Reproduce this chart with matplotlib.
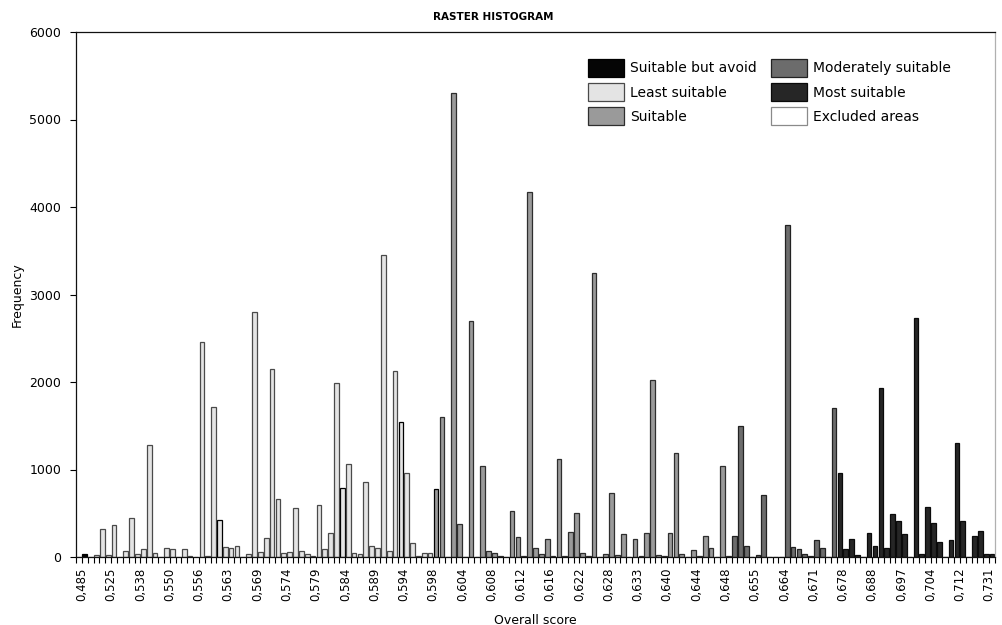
import matplotlib
matplotlib.use("Agg")
import matplotlib.pyplot as plt
from matplotlib.patches import Patch

# ============== Données lues sur l'histogramme ===================
# libellés de l'axe x (un tous les 5 bins)
score_labels = [
    "0,485", "0,525", "0,538", "0,550", "0,556", "0,563", "0,569", "0,574",
    "0,579", "0,584", "0,589", "0,594", "0,598", "0,604", "0,608", "0,612",
    "0,616", "0,622", "0,628", "0,633", "0,640", "0,644", "0,648", "0,655",
    "0,664", "0,671", "0,678", "0,688", "0,697", "0,704", "0,712", "0,731",
]

# fréquence de chaque bin (157 bins)
freq = [
    0, 34, 5, 23, 324, 23, 362, 5, 69, 442,
    40, 95, 1280, 50, 5, 107, 95, 5, 95, 15,
    0, 2457, 10, 1718, 423, 118, 106, 130, 0, 40,
    2800, 60, 221, 2150, 663, 50, 60, 556, 70, 40,
    15, 594, 90, 270, 1985, 792, 1059, 50, 30, 853,
    130, 105, 3452, 70, 2126, 1540, 957, 155, 15, 50,
    50, 777, 1604, 0, 5300, 377, 0, 2700, 0, 1044,
    70, 50, 15, 0, 529, 232, 10, 4175, 100, 40,
    206, 10, 1120, 10, 282, 499, 45, 15, 3246, 0,
    35, 735, 20, 263, 0, 206, 10, 270, 2023, 25,
    10, 270, 1192, 35, 0, 80, 10, 244, 100, 0,
    1040, 10, 244, 1500, 130, 0, 25, 712, 5, 5,
    5, 3800, 118, 90, 30, 10, 194, 106, 0, 1703,
    957, 88, 206, 22, 0, 270, 130, 1928, 100, 491,
    411, 259, 0, 2732, 30, 568, 385, 168, 0, 194,
    1307, 411, 0, 244, 297, 35, 30,
]

# classe de chaque bin
bin_class = ["least"] * 61 + ["suitable"] * 51 + ["moderate"] * 18 + ["most"] * 27
bin_class[1] = "avoid"

# bins dont le contour est plus foncé sur l'original
dark_edge_bins = [24, 45, 55, 61]

# ============== Style ===================
class_order = ["avoid", "least", "suitable", "moderate", "most", "excluded"]
class_names = {
    "avoid": "Suitable but avoid",
    "least": "Least suitable",
    "suitable": "Suitable",
    "moderate": "Moderately suitable",
    "most": "Most suitable",
    "excluded": "Excluded areas",
}
class_colors = {
    "avoid": "#050505",
    "least": "#e4e4e4",
    "suitable": "#9a9a9a",
    "moderate": "#6c6c6c",
    "most": "#262626",
    "excluded": "#ffffff",
}
edge_colors = {
    "avoid": "#000000",
    "least": "#4a4a4a",
    "suitable": "#2e2e2e",
    "moderate": "#222222",
    "most": "#0a0a0a",
    "excluded": "#8a8a8a",
}

plt.rcParams["font.family"] = ["DejaVu Sans"]

fig = plt.figure(figsize=(10.03, 6.25), dpi=100)
ax = fig.add_axes([76 / 1003, 1 - 557 / 625, 919 / 1003, 525 / 625])

# ============== Barres ===================
n_bins = len(freq)
x = [i + 0.5 for i in range(n_bins)]
fills = [class_colors[c] for c in bin_class]
edges = [edge_colors[c] for c in bin_class]
for i in dark_edge_bins:
    edges[i] = "#000000"
ax.bar(x, freq, width=0.8, color=fills, edgecolor=edges, linewidth=0.9, zorder=2)

# ============== Axes ===================
ax.set_xlim(0, n_bins)
ax.set_ylim(0, 6000)
ax.set_yticks(range(0, 6001, 1000))
ax.tick_params(axis="y", labelsize=9, length=4, width=0.8, pad=6.5)

label_pos = [1 + 5 * k for k in range(len(score_labels))]
ax.set_xticks(label_pos)
ax.set_xticklabels(score_labels, rotation=90, fontsize=8.5)
ax.set_xticks(range(0, n_bins + 1), minor=True)
ax.tick_params(axis="x", which="both", length=4, width=0.8, pad=3.5)

for side in ["left", "bottom", "top"]:
    ax.spines[side].set_color("#111111")
    ax.spines[side].set_linewidth(0.9)
ax.spines["right"].set_color("#b0b0b0")
ax.spines["right"].set_linewidth(0.9)

ax.set_xlabel("Overall score", fontsize=9, labelpad=9)
ax.set_ylabel("Frequency", fontsize=9, labelpad=4)
fig.text(493 / 1003, 1 - 17 / 625, "RASTER HISTOGRAM", fontsize=7.5,
         fontweight="bold", ha="center", va="center")

# ============== Légende ===================
handles = [
    Patch(facecolor=class_colors[c], edgecolor=edge_colors[c], linewidth=0.9,
          label=class_names[c])
    for c in class_order
]
ax.legend(handles=handles, ncol=2, frameon=False, fontsize=10,
          loc="upper left", bbox_to_anchor=(588 / 1003, 1 - 59 / 625),
          bbox_transform=fig.transFigure, borderpad=0, borderaxespad=0,
          handlelength=2.6, handleheight=1.6, handletextpad=0.45,
          labelspacing=0.45, columnspacing=1.0)

fig.savefig("out.png", dpi=100)
